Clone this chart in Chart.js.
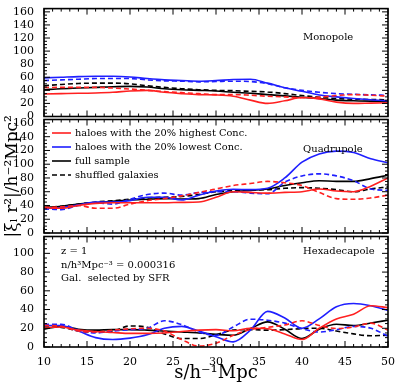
<!DOCTYPE html>
<html><head><meta charset="utf-8">
<script src="https://cdn.jsdelivr.net/npm/chart.js@4/dist/chart.umd.min.js"></script>
<style>
html,body{margin:0;padding:0;background:#fff;}
#wrap{position:relative;width:399px;height:385px;overflow:hidden;}
canvas{position:absolute;left:0;top:0;}
</style></head><body>
<div id="wrap">
<canvas id="cMono" width="399" height="385"></canvas>
<canvas id="cQuad" width="399" height="385"></canvas>
<canvas id="cHexa" width="399" height="385"></canvas>
</div>
<script>
// ---- data ----
const sGrid = [10,12,14,16,18,20,22,24,26,28,30,32,34,36,38,40,42,44,46,48,50];
const xTicks = [10,15,20,25,30,35,40,45,50];
const yTicksMono = [0,20,40,60,80,100,120,140,160];
const yTicksQuad = [0,20,40,60,80,100,120,140,160];
const yTicksHexa = [0,20,40,60,80,100];

const monoRedSolid    = [34.5,35,35.5,36,37,39,40,37,35,33.5,33,31,25,20,24,29,27,22,20,20.5,21];
const monoRedDashed   = [44.4,44.5,44.5,44.5,43.5,42,40,38,36.5,35,33.5,33.5,32.5,31,30,28.6,29.5,32,33.5,32.5,31];
const monoBlueSolid   = [59,60,61,61.5,61.5,60.5,58,56,55,54,55,56.5,57,51,44,38.5,33,30,27.5,25.5,24];
const monoBlueDashed  = [55,56,57,58,58,58,56,54.5,54,53,53.5,54,53.5,50,44,40,37,35,34,33,32.5];
const monoBlackSolid  = [41,42.5,43.5,44.5,45.5,46,45,42.5,41,40,39,37,35.5,33.5,31.5,29.5,27.5,25,24,23.5,23.5];
const monoBlackDashed = [47,49,50.5,51,51,50,47,44.5,42.5,41,40,39.5,38.5,37.5,35,32,29.5,27.5,26.5,26,25.5];

const quadRedSolid    = [37,36,40,43,44,44,44,44,44.5,45,52,60,59,58,59,60,64,61,60,68,80];
const quadRedDashed   = [37,38,40,36,36,42,47,50,54,59,64,69,72,75,73,69,59,50,49,51,55];
const quadBlueSolid   = [36,37,41,45,45,47,52,52,48,55,61,63.5,63,65,80,103,115,119,117,108,102];
const quadBlueDashed  = [35,34,40,44,42,49,56,58,55,59,60,60,58,57,74,83,86,83,76,64,62];
const quadBlackSolid  = [37,39,42,44,46,48,49,50,49.5,50,56,60,62,64,69,73,76,75,75,79,84];
const quadBlackDashed = [37,39,42,45,47,49,51,52,53,56,60,61.5,62.5,63,65,66,65,63,60,64,67];

const hexaRedSolid    = [20.8,21.4,18,16.5,15.5,14.5,14.5,15,16.5,18,18.6,17.3,20,19.5,14,8,20,30,35,44,42];
const hexaRedDashed   = [23.2,22,17,16,18,19.5,20,17,8,1,4,12.5,18.6,21,23.5,28,23,19.7,21.5,25.5,18];
const hexaBlueSolid   = [23,23,17,10,8,9.5,13,20,22,17,11,5.5,18,38,31,20,30,43,46.5,44,39];
const hexaBlueDashed  = [24.3,24.3,18,15,17,18.5,20,28,24,16,12.5,21.4,29.7,28.6,25.5,19.5,16,18.5,22,20,11.5];
const hexaBlackSolid  = [19,22,19,18,18.6,18.6,18,17,16,15,13.5,12.5,19.7,26.8,19,9,19,24.3,23,25.7,28.6];
const hexaBlackDashed = [21.4,21,17,16,17,22.5,21,14,9,9,13,18,18.5,18,18.5,19.7,20,17,14,12,12.5];

const legendLabels = ['haloes with the 20% highest Conc.','haloes with the 20% lowest Conc.','full sample','shuffled galaxies'];

// ---- styling ----
const RED = '#ff2020', BLUE = '#1f1fff', BLACK = '#000000';
const SERIF = '"DejaVu Serif", serif';
const DASH = [5,3];

function pts(vals){ return sGrid.map((s,i)=>({x:s,y:vals[i]})); }
function ds(label, vals, color, dashed){
  return {label, data: pts(vals), borderColor: color, backgroundColor: color,
    borderWidth: 1.6, borderDash: dashed ? DASH : [], pointRadius: 0,
    cubicInterpolationMode: 'monotone', fill: false};
}

const framePlugin = {
  id: 'frame',
  afterDatasetsDraw(chart, args, opts){
    const {ctx, chartArea:a} = chart;
    const x = chart.scales.x, y = chart.scales.y;
    ctx.save();
    ctx.strokeStyle = '#000';
    ctx.setLineDash([]);
    const L = (x1,y1,x2,y2)=>{ctx.beginPath();ctx.moveTo(x1,y1);ctx.lineTo(x2,y2);ctx.stroke();};
    ctx.lineWidth = 1;
    for (let v = x.min; v <= x.max + 1e-9; v += 1){
      const p = x.getPixelForValue(v);
      const major = xTicks.includes(v);
      const len = major ? 6 : 3;
      L(p, a.bottom, p, a.bottom - len);
      L(p, a.top, p, a.top + len);
    }
    for (let v = 0; v <= y.max + 1e-9; v += 5){
      const p = y.getPixelForValue(v);
      const major = opts.yMajor.includes(v);
      const len = major ? 6 : 3;
      L(a.left, p, a.left + len, p);
      L(a.right, p, a.right - len, p);
    }
    ctx.lineWidth = 1.6;
    ctx.strokeRect(a.left, a.top, a.right - a.left, a.bottom - a.top);
    // texts
    ctx.fillStyle = '#000';
    ctx.textBaseline = 'middle';
    (opts.texts || []).forEach(t=>{
      ctx.font = (t.size || 10) + 'px ' + SERIF;
      ctx.textAlign = t.align || 'left';
      ctx.fillText(t.text, a.left + t.dx, a.top + t.dy);
    });
    // legend
    if (opts.legend){
      const items = [
        {c:RED, d:[]},{c:BLUE, d:[]},{c:BLACK, d:[]},{c:BLACK, d:DASH}
      ];
      ctx.font = '9.8px ' + SERIF;
      ctx.textAlign = 'left';
      items.forEach((it,i)=>{
        const yy = a.top + 13.5 + i*14;
        ctx.strokeStyle = it.c; ctx.lineWidth = 1.6; ctx.setLineDash(it.d);
        L(a.left + 8, yy, a.left + 27, yy);
        ctx.setLineDash([]);
        ctx.fillText(legendLabels[i], a.left + 31, yy);
      });
    }
    ctx.restore();
  }
};

function yScale(max, ticks, title){
  const sc = {
    type: 'linear', min: 0, max: max,
    afterBuildTicks: s => { s.ticks = ticks.map(v=>({value:v})); },
    afterFit: s => { s.width = 44; },
    grid: {display:false}, border: {display:false},
    ticks: {font:{family:SERIF, size:11}, color:'#000', padding:2, autoSkip:false}
  };
  if (title){
    sc.title = {display:true, text: title, font:{family:SERIF, size:17}, color:'#000', padding:{top:2,bottom:0}};
  }
  return sc;
}

function makeChart(id, datasets, opt){
  const xs = {
    type:'linear', min:10, max:50, display: opt.showX,
    afterBuildTicks: s => { s.ticks = xTicks.map(v=>({value:v})); },
    grid:{display:false}, border:{display:false},
    ticks:{font:{family:SERIF, size:11}, color:'#000', padding:1, maxRotation:0, autoSkip:false}
  };
  if (opt.showX){
    xs.afterFit = s => { s.height = 38; };
    xs.title = {display:true, text:'s/h\u207B\u00B9Mpc', font:{family:SERIF, size:18}, color:'#000', padding:{top:0,bottom:1}};
  }
  return new Chart(document.getElementById(id), {
    type:'line',
    data:{datasets},
    options:{
      responsive:false, animation:false, devicePixelRatio:1,
      layout:{padding:{left:0, right:11, top:opt.top, bottom:opt.bottom}},
      plugins:{legend:{display:false}, tooltip:{enabled:false},
        frame:{yMajor: opt.yTicks, texts: opt.texts, legend: opt.legend}},
      scales:{x: xs, y: yScale(opt.max, opt.yTicks, opt.yTitle)}
    },
    plugins:[framePlugin]
  });
}

function sixSets(r, rd, b, bd, k, kd){
  return [ds('red', r, RED, false), ds('red dashed', rd, RED, true),
          ds('blue', b, BLUE, false), ds('blue dashed', bd, BLUE, true),
          ds('black', k, BLACK, false), ds('black dashed', kd, BLACK, true)];
}

makeChart('cMono', sixSets(monoRedSolid, monoRedDashed, monoBlueSolid, monoBlueDashed, monoBlackSolid, monoBlackDashed),
  {showX:false, top:4, bottom:385-116.5, max:165, yTicks:yTicksMono,
   texts:[{text:'Monopole', dx:259, dy:29}]});

makeChart('cQuad', sixSets(quadRedSolid, quadRedDashed, quadBlueSolid, quadBlueDashed, quadBlackSolid, quadBlackDashed),
  {showX:false, top:119.5, bottom:385-233, max:165, yTicks:yTicksQuad,
   yTitle:'|\u03BE\u2097 r\u00B2|/h\u207B\u00B2Mpc\u00B2', legend:true,
   texts:[{text:'Quadrupole', dx:259, dy:30}]});

makeChart('cHexa', sixSets(hexaRedSolid, hexaRedDashed, hexaBlueSolid, hexaBlueDashed, hexaBlackSolid, hexaBlackDashed),
  {showX:true, top:236.5, bottom:0, max:118, yTicks:yTicksHexa,
   texts:[{text:'Hexadecapole', dx:259, dy:15},
          {text:'z = 1', dx:17, dy:15},
          {text:'n/h\u00B3Mpc\u207B\u00B3 = 0.000316', dx:17, dy:28.5},
          {text:'Gal.  selected by SFR', dx:17, dy:42}]});
</script>
</body></html>
